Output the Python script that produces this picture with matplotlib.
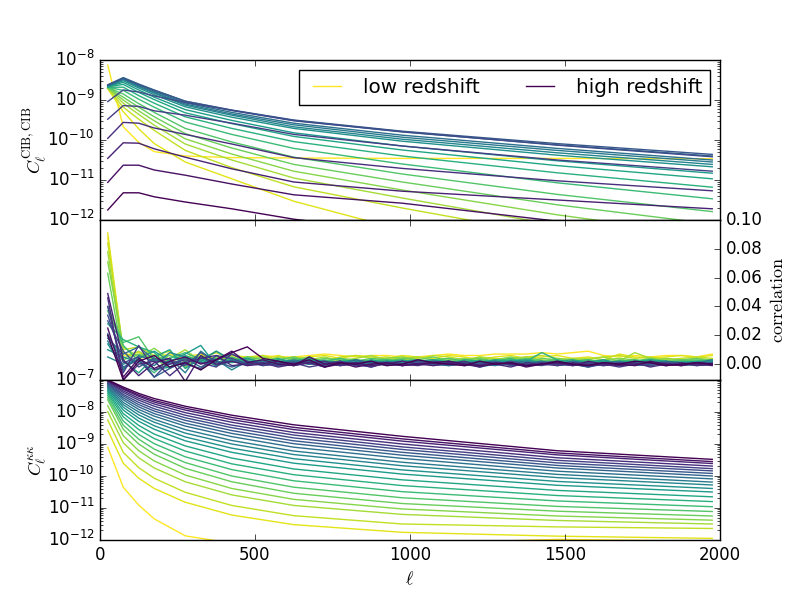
import numpy as np
import matplotlib
matplotlib.use("Agg")
import matplotlib.pyplot as plt

plt.style.use('classic')

# multipole nodes for the smooth spectra
ell_nodes = [25, 75, 125, 175, 275, 425, 625, 975, 1475, 1975]
# multipole bins for the correlation panel
ell_bins = np.arange(25, 2000, 50)

# log10 C_ell^{CIB,CIB}, row 0 = lowest redshift ... row 22 = highest redshift
cib_log10 = [
    [-8.13, -9.67, -10.06, -10.29, -10.40, -10.44, -10.45, -10.46, -10.46, -10.47],
    [-8.72, -9.29, -9.72, -10.09, -10.55, -10.97, -11.53, -12.25, -12.90, -13.40],
    [-8.71, -9.18, -9.48, -9.76, -10.26, -10.69, -11.17, -11.70, -12.40, -13.00],
    [-8.70, -9.08, -9.36, -9.63, -10.10, -10.50, -10.95, -11.45, -12.13, -12.70],
    [-8.70, -9.00, -9.27, -9.52, -9.97, -10.35, -10.78, -11.25, -11.87, -12.40],
    [-8.69, -8.93, -9.18, -9.42, -9.84, -10.20, -10.61, -11.05, -11.62, -12.10],
    [-8.69, -8.85, -9.09, -9.31, -9.71, -10.05, -10.43, -10.85, -11.36, -11.79],
    [-8.68, -8.76, -8.98, -9.18, -9.55, -9.86, -10.21, -10.60, -11.07, -11.47],
    [-8.68, -8.68, -8.89, -9.08, -9.42, -9.71, -10.04, -10.40, -10.82, -11.18],
    [-8.67, -8.61, -8.81, -8.99, -9.32, -9.59, -9.91, -10.25, -10.64, -10.97],
    [-8.66, -8.56, -8.75, -8.93, -9.24, -9.51, -9.82, -10.15, -10.52, -10.83],
    [-8.66, -8.52, -8.70, -8.87, -9.17, -9.43, -9.71, -10.03, -10.38, -10.67],
    [-8.65, -8.49, -8.67, -8.83, -9.13, -9.38, -9.67, -9.98, -10.32, -10.61],
    [-8.64, -8.47, -8.65, -8.81, -9.10, -9.35, -9.62, -9.93, -10.26, -10.55],
    [-8.63, -8.45, -8.62, -8.78, -9.07, -9.31, -9.58, -9.88, -10.21, -10.50],
    [-8.62, -8.44, -8.60, -8.75, -9.03, -9.26, -9.51, -9.80, -10.12, -10.40],
    [-8.63, -8.46, -8.62, -8.76, -9.03, -9.25, -9.50, -9.78, -10.09, -10.36],
    [-9.04, -8.75, -8.80, -8.90, -9.06, -9.26, -9.52, -9.79, -10.13, -10.42],
    [-9.48, -9.14, -9.16, -9.27, -9.38, -9.58, -9.86, -10.15, -10.50, -10.78],
    [-9.96, -9.56, -9.58, -9.70, -9.86, -10.10, -10.44, -10.71, -11.02, -11.27],
    [-10.46, -10.07, -10.08, -10.22, -10.43, -10.72, -11.05, -11.28, -11.50, -11.72],
    [-11.06, -10.63, -10.63, -10.75, -10.88, -11.10, -11.37, -11.58, -12.03, -12.40],
    [-11.75, -11.32, -11.32, -11.42, -11.55, -11.72, -11.98, -12.30, -12.70, -13.00],
]

# log10 C_ell^{kappa kappa}
kk_log10 = [
    [-9.10, -10.35, -10.91, -11.34, -11.87, -12.10, -12.15, -12.12, -11.98, -12.04],
    [-8.57, -9.60, -10.07, -10.39, -10.82, -11.22, -11.52, -11.76, -11.88, -11.95],
    [-8.25, -9.26, -9.74, -10.07, -10.51, -10.92, -11.24, -11.50, -11.59, -11.64],
    [-7.99, -8.96, -9.43, -9.75, -10.18, -10.59, -10.92, -11.20, -11.39, -11.50],
    [-7.80, -8.74, -9.21, -9.53, -9.97, -10.39, -10.73, -11.03, -11.25, -11.38],
    [-7.62, -8.54, -9.00, -9.32, -9.76, -10.18, -10.54, -10.86, -11.10, -11.25],
    [-7.55, -8.41, -8.85, -9.16, -9.58, -10.00, -10.35, -10.68, -10.95, -11.11],
    [-7.48, -8.28, -8.70, -8.99, -9.40, -9.80, -10.15, -10.49, -10.78, -10.96],
    [-7.42, -8.15, -8.55, -8.83, -9.22, -9.62, -9.96, -10.30, -10.61, -10.80],
    [-7.37, -8.05, -8.42, -8.69, -9.06, -9.44, -9.78, -10.12, -10.45, -10.65],
    [-7.32, -7.94, -8.29, -8.54, -8.90, -9.26, -9.60, -9.94, -10.29, -10.50],
    [-7.28, -7.85, -8.19, -8.43, -8.78, -9.13, -9.46, -9.81, -10.17, -10.39],
    [-7.24, -7.77, -8.09, -8.32, -8.66, -9.00, -9.33, -9.68, -10.05, -10.28],
    [-7.20, -7.70, -8.00, -8.23, -8.55, -8.89, -9.22, -9.57, -9.95, -10.19],
    [-7.17, -7.62, -7.92, -8.13, -8.44, -8.77, -9.10, -9.45, -9.85, -10.09],
    [-7.14, -7.56, -7.84, -8.05, -8.35, -8.67, -8.99, -9.35, -9.75, -10.00],
    [-7.11, -7.50, -7.77, -7.97, -8.26, -8.58, -8.90, -9.26, -9.67, -9.92],
    [-7.09, -7.45, -7.70, -7.90, -8.18, -8.49, -8.81, -9.17, -9.59, -9.84],
    [-7.06, -7.39, -7.63, -7.82, -8.10, -8.41, -8.72, -9.09, -9.51, -9.77],
    [-7.04, -7.34, -7.57, -7.75, -8.02, -8.32, -8.64, -9.00, -9.43, -9.69],
    [-7.02, -7.29, -7.51, -7.69, -7.94, -8.24, -8.55, -8.91, -9.34, -9.61],
    [-7.01, -7.26, -7.47, -7.64, -7.88, -8.17, -8.48, -8.84, -9.28, -9.55],
    [-7.00, -7.22, -7.42, -7.58, -7.82, -8.10, -8.40, -8.76, -9.21, -9.48],
]

# correlation coefficient in units of 1e-3, one row per redshift bin, one value per ell bin
corr_milli = [
    [88, 6, 8, 5, 7, 3, 6, 4, 5, 4, 6, 5, 5, 6, 7, 6, 5, 6, 6, 5, 5, 6, 7, 6, 6, 7, 7, 7, 8, 7, 8, 9, 6, 5, 6, 5, 6, 6, 5, 7],
    [91, 8, 4, 6, 2, 5, 7, 3, 6, 5, 4, 6, 3, 5, 6, 4, 6, 5, 4, 6, 5, 4, 6, 5, 3, 5, 6, 4, 5, 6, 4, 5, 3, 7, 5, 4, 5, 6, 5, 6],
    [84, 10, 12, 6, 9, 1, 4, 8, 3, 5, 6, 3, 5, 4, 2, 5, 6, 4, 5, 3, 4, 6, 5, 3, 5, 4, 3, 5, 6, 4, 3, 4, 5, 6, 4, 5, 3, 4, 5, 4],
    [78, 4, 9, 2, 4, 10, 2, 5, 3, 4, 2, 5, 4, 3, 5, 2, 4, 6, 3, 4, 5, 3, 4, 2, 5, 3, 4, 5, 3, 2, 4, 3, 5, 2, 8, 4, 3, 2, 4, 3],
    [71, 12, 5, 11, 3, -2, 6, 1, 4, 3, 5, 2, 3, 5, 1, 4, 3, 2, 4, 5, 3, 2, 3, 4, 2, 3, 5, 3, 2, 4, 3, 2, 3, 4, 3, 2, 4, 3, 2, 3],
    [63, 3, 7, 4, -3, 5, 3, 9, 2, 4, 1, 3, 5, 2, 4, 3, 1, 3, 2, 4, 3, 5, 2, 3, 4, 2, 3, 1, 4, 3, 2, 3, 1, 3, 2, 4, 2, 3, 4, 2],
    [40, 15, 19, 3, 6, 2, -4, 4, 2, 5, 3, 1, 4, 2, 3, 1, 2, 4, 3, 1, 2, 3, 4, 2, 1, 3, 2, 4, 2, 3, 1, 2, 3, 1, 2, 3, 1, 2, 3, 2],
    [37, 13, 2, -6, 4, 8, 3, -1, 5, 1, 3, 2, 0, 3, 2, 4, 1, 2, 3, 2, 1, 3, 2, 1, 3, 2, 4, 1, 2, 0, 2, 3, 1, 2, 3, 1, 2, 0, 2, 3],
    [28, 17, 12, 8, -3, 6, 2, 4, 1, 3, 2, 4, 1, 3, 0, 2, 3, 1, 2, 3, 1, 2, 0, 3, 2, 1, 3, 2, 8, 3, 1, 2, 0, 1, 2, 3, 1, 2, 1, 2],
    [20, 2, -6, 5, 10, -3, 4, 1, 2, 0, 3, 1, 2, 4, 1, 2, 0, 3, 1, 2, 3, 0, 1, 2, 1, 3, 2, 0, 1, 2, 3, 1, 0, 2, 1, 3, 2, 1, 0, 2],
    [14, -3, 4, 9, 2, 7, 13, -1, 2, 4, 1, 3, 2, 0, 2, 1, 3, 0, 2, 1, 2, 3, 1, 0, 2, 1, 2, 3, 1, 0, 2, 1, 3, 0, 1, 2, 0, 1, 2, 1],
    [10, 5, 1, -4, -2, 4, 2, 9, 3, 1, 2, 0, 1, 3, 2, 0, 1, 2, 0, 1, 3, 1, 2, 0, 1, 2, 0, 1, 2, -1, 1, 0, 2, 1, 0, 1, 2, 0, 1, 2],
    [5, 0, 3, -1, 8, 5, 1, 3, -4, 2, -1, 1, 2, 0, 1, -1, 2, 1, 0, 2, 1, 0, -1, 1, 2, 0, 1, 2, 0, 1, 0, -2, 1, 0, 2, 1, 0, 1, 0, 1],
    [16, -4, 6, 2, 4, -6, 9, 1, 3, -1, 2, 0, 3, 1, -2, 2, 0, 1, 2, -1, 1, 0, 2, 1, 0, -1, 1, 2, 0, 1, -1, 0, 1, 2, 0, 1, -1, 0, 1, 3],
    [18, 7, 12, 3, 0, 4, -2, 3, 7, 2, 0, 1, -1, 2, 1, 0, 3, 1, -1, 0, 2, 1, 0, 1, -2, 0, 1, 0, 2, -1, 0, 1, 0, -1, 1, 0, 2, 1, 0, 1],
    [21, -2, 3, -9, -3, 2, 5, -1, 2, 0, 1, -1, 2, 0, 1, 2, -1, 0, 1, 2, 0, 1, -1, 0, 1, 2, 0, -1, 1, 0, 2, 0, -1, 1, 0, -1, 1, 0, 1, 0],
    [30, 9, -2, 4, 1, -1, 8, 2, -2, 1, 0, 2, -1, 1, 0, -1, 1, 2, 0, -1, 1, 0, 2, -1, 0, 1, -1, 0, 1, 2, 0, -1, 0, 1, -1, 0, 1, -1, 0, 1],
    [34, 1, 5, -9, 2, 0, -3, 6, 4, 0, 1, -1, 0, 2, -1, 1, 0, -2, 1, 0, 2, -1, 0, 1, -1, 0, 2, 0, -1, 1, 0, -2, 0, 1, 0, -1, 1, 0, -1, 0],
    [40, -6, 13, -4, 0, 3, 1, -2, 7, 2, -1, 0, 1, -2, 0, 2, -1, 0, 1, -1, 0, 2, 1, -1, 0, 1, 0, -1, 1, 0, -1, 1, 0, -2, 0, 1, 0, -1, 1, 0],
    [46, -11, 0, 2, -8, 1, 4, 6, -1, 0, 1, -2, 0, 1, 2, -1, 0, -2, 1, 0, -1, 1, 0, 2, -1, 0, -2, 1, 0, -1, 1, 0, -1, 0, 1, -2, 0, 1, -1, 0],
    [49, 3, -8, 1, 4, -12, 6, 0, 2, -1, 0, 2, -1, 1, -2, 0, 1, -1, 0, 2, 0, -1, 1, 0, -2, 1, 0, -1, 0, 1, -1, 2, 0, -1, 0, 1, -1, 0, 0, -1],
    [25, -9, 4, -3, 2, 5, 0, 3, 9, 1, 3, 0, -1, 5, 0, 1, -2, 0, 1, -1, 0, 1, 2, 0, -1, 0, 1, -2, 0, 1, 0, -1, 1, 0, -1, 2, 0, -1, 1, 0],
    [20, -11, 2, 6, -2, 1, -4, 3, 8, 12, 4, 2, 0, 3, -2, 1, 0, 2, -1, 0, 3, 1, 0, -1, 2, 0, 1, -1, 0, 2, 0, -1, 1, 0, 2, 1, -1, 0, 1, 0],
]

legend_labels = ['low redshift', 'high redshift']

n_bins = len(cib_log10)
colors = plt.cm.viridis(np.linspace(1.0, 0.0, n_bins))

fig = plt.figure(figsize=(8, 6), facecolor='white')
fig.subplots_adjust(left=0.125, right=0.9, bottom=0.1, top=0.9, hspace=0.0)
ax1 = fig.add_subplot(3, 1, 1)
ax2 = fig.add_subplot(3, 1, 2, sharex=ax1)
ax3 = fig.add_subplot(3, 1, 3, sharex=ax1)

for i in range(n_bins):
    lab = None
    if i == 0:
        lab = legend_labels[0]
    elif i == n_bins - 1:
        lab = legend_labels[1]
    ax1.plot(ell_nodes, 10.0 ** np.array(cib_log10[i]), color=colors[i], lw=1.0, label=lab)
    ax2.plot(ell_bins, np.array(corr_milli[i]) * 1e-3, color=colors[i], lw=1.0)
    ax3.plot(ell_nodes, 10.0 ** np.array(kk_log10[i]), color=colors[i], lw=1.0)

ax1.set_yscale('log')
ax1.set_ylim(1e-12, 1e-8)
ax1.set_ylabel(r'$C_\ell^{\rm CIB,CIB}$', fontsize=13, labelpad=-1)
ax1.legend(loc='upper right', ncol=2, fontsize=14.4)
plt.setp(ax1.get_xticklabels(), visible=False)

ax2.set_ylim(-0.011, 0.10)
ax2.yaxis.tick_right()
ax2.yaxis.set_label_position('right')
ax2.set_yticks([0.0, 0.02, 0.04, 0.06, 0.08, 0.10])
ax2.set_yticklabels(['0.00', '0.02', '0.04', '0.06', '0.08', '0.10'])
ax2.set_ylabel(r'$\mathrm{correlation}$', fontsize=13)
plt.setp(ax2.get_xticklabels(), visible=False)

ax3.set_yscale('log')
ax3.set_ylim(1e-12, 1e-7)
ax3.set_ylabel(r'$C_\ell^{\kappa\kappa}$', fontsize=13, labelpad=-1)
ax3.set_xlim(0, 2000)
ax3.set_xticks([0, 500, 1000, 1500, 2000])
ax3.set_xlabel(r'$\ell$', fontsize=13)

fig.savefig('out.png', dpi=100, facecolor='white')
